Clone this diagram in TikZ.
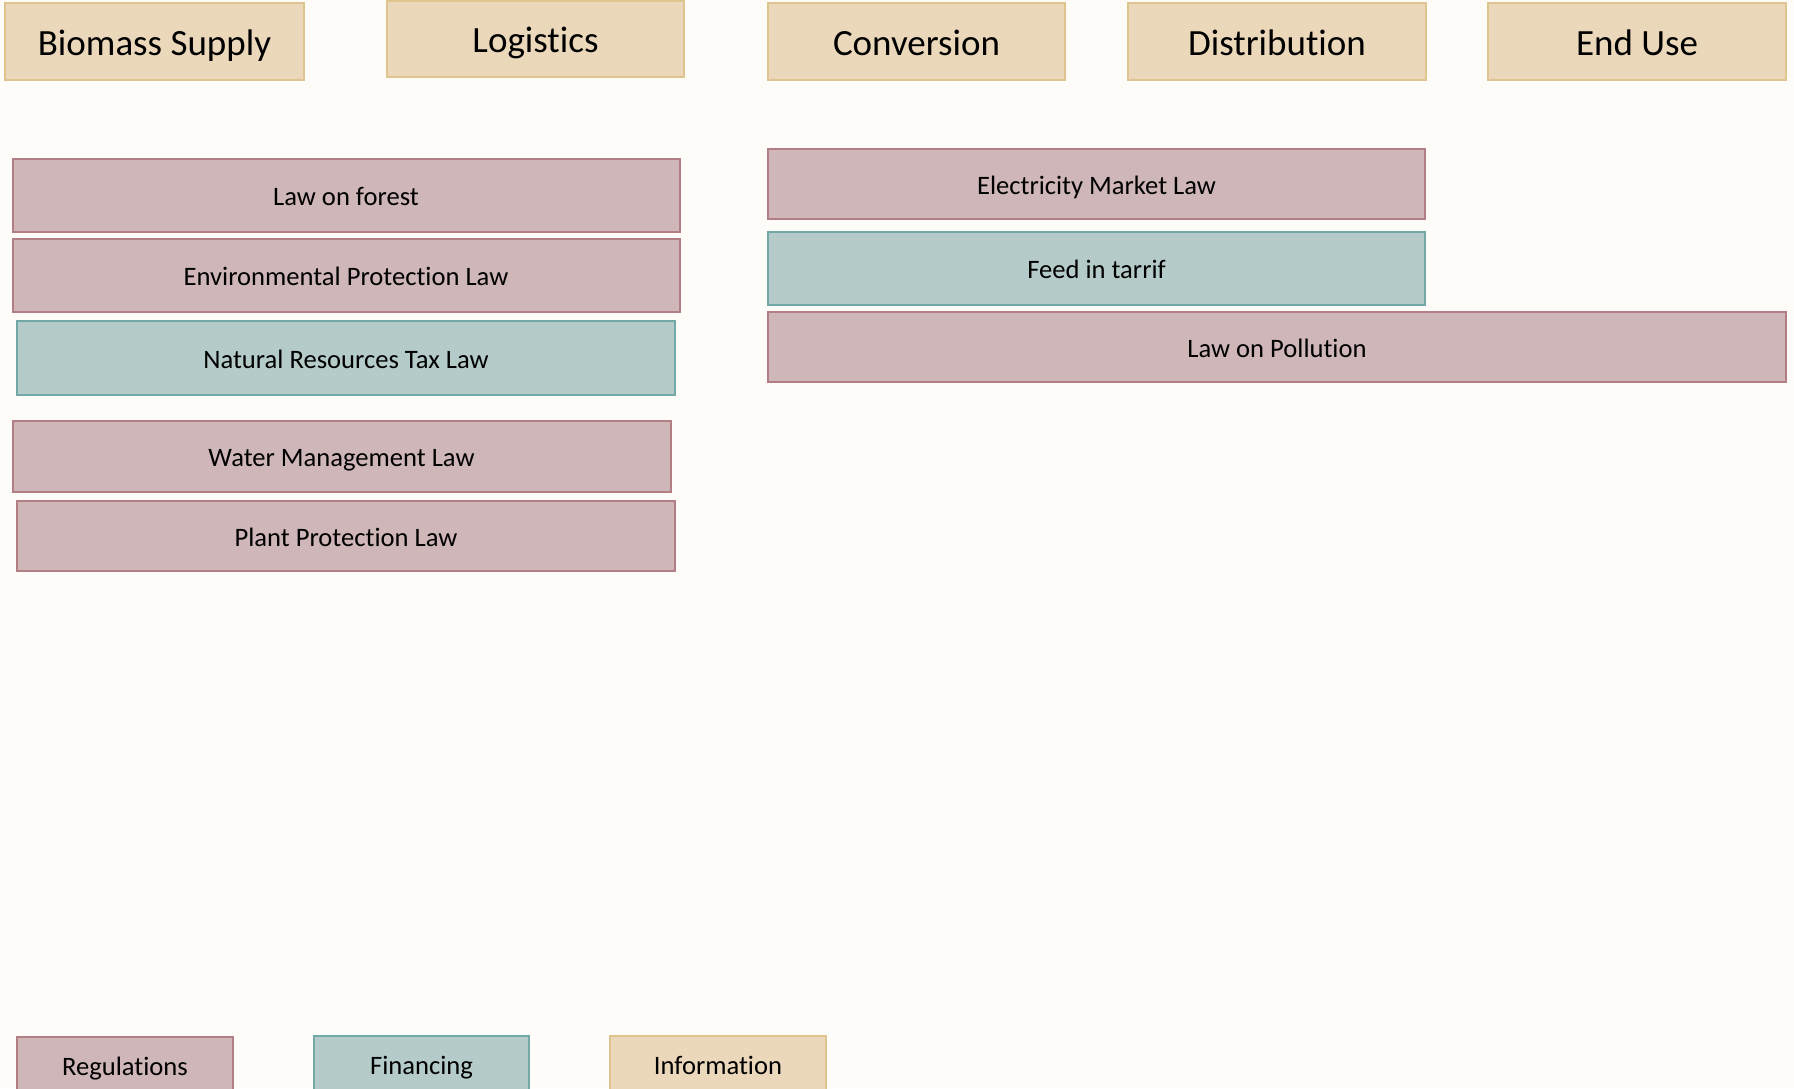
\documentclass[tikz,border=0pt]{standalone}
\usepackage{fontspec}
\setmainfont[Ligatures={NoCommon}]{Carlito}
\definecolor{bgc}{HTML}{FDFCF8}
\definecolor{infofill}{HTML}{EBD8BA}
\definecolor{infodraw}{HTML}{E0C48E}
\definecolor{regfill}{HTML}{CFB6B8}
\definecolor{regdraw}{HTML}{B27E84}
\definecolor{finfill}{HTML}{B4CBC9}
\definecolor{findraw}{HTML}{72A8A6}
\tikzset{
  boxbase/.style={rectangle, inner sep=0pt, outer sep=0pt, line width=2pt, align=center, text=black},
  bigtext/.style={font=\fontsize{37}{44}\selectfont, text height=33.4pt, text depth=5.9pt},
  smalltext/.style={font=\fontsize{26.6}{32}\selectfont, text height=24.4pt, text depth=4.3pt},
  header/.style={boxbase, bigtext, fill=infofill, draw=infodraw},
  reglaw/.style={boxbase, smalltext, fill=regfill, draw=regdraw},
  finlaw/.style={boxbase, smalltext, fill=finfill, draw=findraw},
  infolaw/.style={boxbase, smalltext, fill=infofill, draw=infodraw},
  wh/.style n args={2}{minimum width=#1pt, minimum height=#2pt}
}
\begin{document}
\begin{tikzpicture}[x=1pt,y=-1pt]
\useasboundingbox (0,0) rectangle (1794,1088);
\clip (0,0) rectangle (1794,1088);
\fill[bgc] (0,0) rectangle (1794,1088);
% headers
\node[header, wh={299}{77}] (hb) at (154.5,41.5) {Biomass Supply};
\node[header, wh={297}{76}] (hl) at (535.5,39) {Logistics};
\node[header, wh={297}{77}] (hc) at (916.5,41.5) {Conversion};
\node[header, wh={298}{77}] (hd) at (1277,41.5) {Distribution};
\node[header, wh={298}{77}] (he) at (1637,41.5) {End Use};
% laws left
\node[reglaw, wh={667}{73}] (forest) at (346,195.5) {Law on forest};
\node[reglaw, wh={667}{73}] (env) at (346,275.5) {Environmental Protection Law};
\node[finlaw, wh={658}{74}] (nat) at (346,358) {Natural Resources Tax Law};
\node[reglaw, wh={658}{71}] (water) at (341.5,456.5) {Water Management Law};
\node[reglaw, wh={658}{70}] (plant) at (346,536) {Plant Protection Law};
% laws right
\node[reglaw, wh={657}{70}] (elec) at (1096.5,184) {Electricity Market Law};
\node[finlaw, wh={657}{73}] (feed) at (1096.5,268.5) {Feed in tarrif};
\node[reglaw, wh={1018}{70}] (poll) at (1277,347) {Law on Pollution};
% legend
\node[reglaw, wh={216}{56}] (reg) at (125,1065) {Regulations};
\node[finlaw, wh={215}{57}] (fin) at (421.5,1064.5) {Financing};
\node[infolaw, wh={216}{57}] (info) at (718,1064.5) {Information};
\end{tikzpicture}
\end{document}
